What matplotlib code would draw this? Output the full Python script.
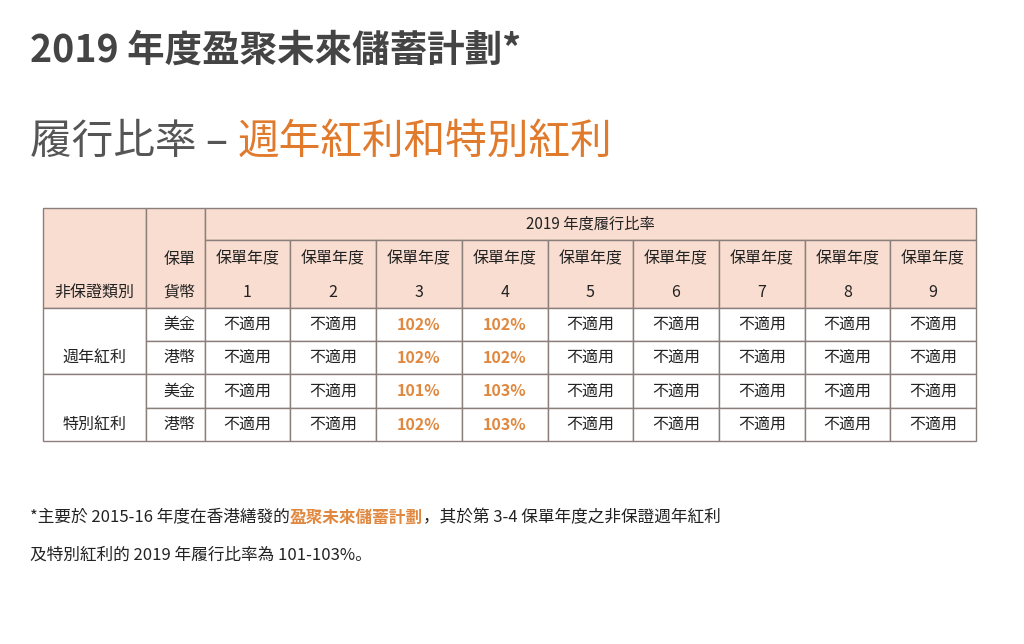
import matplotlib
matplotlib.use("Agg")
import matplotlib.pyplot as plt
from matplotlib.patches import Rectangle

plt.rcParams['font.family'] = ['Noto Sans CJK TC', 'Noto Sans CJK JP', 'Noto Sans CJK SC', 'DejaVu Sans']

title = "2019 年度盈聚未來儲蓄計劃*"
subtitle_a = "履行比率 – "
subtitle_b = "週年紅利和特別紅利"
header_top = "2019 年度履行比率"
policy_years = ["1", "2", "3", "4", "5", "6", "7", "8", "9"]
categories = ["週年紅利", "特別紅利"]
currencies = ["美金", "港幣"]
values = [
    ["不適用", "不適用", "102%", "102%", "不適用", "不適用", "不適用", "不適用", "不適用"],
    ["不適用", "不適用", "102%", "102%", "不適用", "不適用", "不適用", "不適用", "不適用"],
    ["不適用", "不適用", "101%", "103%", "不適用", "不適用", "不適用", "不適用", "不適用"],
    ["不適用", "不適用", "102%", "103%", "不適用", "不適用", "不適用", "不適用", "不適用"],
]

PINK = "#f9ddd0"
EDGE = "#8a7f7a"
ORANGE = "#e0883f"
DARK = "#222222"

fig = plt.figure(figsize=(10.24, 6.44), dpi=100)
ax = fig.add_axes([0, 0, 1, 1])
ax.set_xlim(0, 1024); ax.set_ylim(644, 0); ax.axis('off')
inv = ax.transData.inverted()

def right_edge(t):
    fig.canvas.draw()
    return inv.transform((t.get_window_extent().x1, 0))[0]

ax.text(30, 50, title, fontsize=27, fontweight='bold', color="#444444", va='center')
t = ax.text(30, 142, subtitle_a, fontsize=30, color="#555555", va='center')
ax.text(right_edge(t), 142, subtitle_b, fontsize=30, color="#e07a2c", va='center')

xs = [43, 146, 205, 290, 376, 462, 548, 633, 719, 805, 890, 976]
ys = [208, 240, 308, 341, 374, 408, 441]

def cell(x0, y0, x1, y1, color="white"):
    ax.add_patch(Rectangle((x0, y0), x1 - x0, y1 - y0, facecolor=color, edgecolor=EDGE, lw=1))

cell(xs[0], ys[0], xs[1], ys[2], PINK)
cell(xs[1], ys[0], xs[2], ys[2], PINK)
cell(xs[2], ys[0], xs[-1], ys[1], PINK)
ax.text((xs[2] + xs[-1]) / 2, (ys[0] + ys[1]) / 2, header_top, fontsize=11, ha='center', va='center', color=DARK)
ax.text((xs[0] + xs[1]) / 2, 292, "非保證類別", fontsize=11.5, ha='center', va='center', color=DARK)
ax.text((xs[1] + xs[2]) / 2 + 4, 259, "保單", fontsize=11.5, ha='center', va='center', color=DARK)
ax.text((xs[1] + xs[2]) / 2 + 4, 292, "貨幣", fontsize=11.5, ha='center', va='center', color=DARK)
for i, yr in enumerate(policy_years):
    x0, x1 = xs[2 + i], xs[3 + i]
    cell(x0, ys[1], x1, ys[2], PINK)
    ax.text((x0 + x1) / 2, 259, "保單年度", fontsize=11.5, ha='center', va='center', color=DARK)
    ax.text((x0 + x1) / 2, 292, yr, fontsize=11.5, ha='center', va='center', color=DARK)

for c, cat in enumerate(categories):
    y0, y1 = ys[2 + 2 * c], ys[4 + 2 * c]
    cell(xs[0], y0, xs[1], y1)
    ax.text((xs[0] + xs[1]) / 2, (ys[3 + 2 * c] + y1) / 2, cat, fontsize=11.5, ha='center', va='center', color=DARK)
    for k, cur in enumerate(currencies):
        r = 2 * c + k
        ya, yb = ys[2 + r], ys[3 + r]
        cell(xs[1], ya, xs[2], yb)
        ax.text((xs[1] + xs[2]) / 2 + 4, (ya + yb) / 2, cur, fontsize=11.5, ha='center', va='center', color=DARK)
        for i, v in enumerate(values[r]):
            x0, x1 = xs[2 + i], xs[3 + i]
            cell(x0, ya, x1, yb)
            is_pct = v.endswith('%')
            ax.text((x0 + x1) / 2, (ya + yb) / 2, v, fontsize=11.5, ha='center', va='center',
                    color=ORANGE if is_pct else DARK, fontweight='bold' if is_pct else 'normal')

fa = ax.text(30, 518, "*主要於 2015-16 年度在香港繕發的", fontsize=12, color=DARK, va='center')
fb = ax.text(right_edge(fa), 518, "盈聚未來儲蓄計劃", fontsize=12, color=ORANGE, fontweight='bold', va='center')
ax.text(right_edge(fb), 518, "，其於第 3-4 保單年度之非保證週年紅利", fontsize=12, color=DARK, va='center')
ax.text(30, 555, "及特別紅利的 2019 年履行比率為 101-103%。", fontsize=12, color=DARK, va='center')

fig.savefig("out.png", dpi=100, facecolor="white")
